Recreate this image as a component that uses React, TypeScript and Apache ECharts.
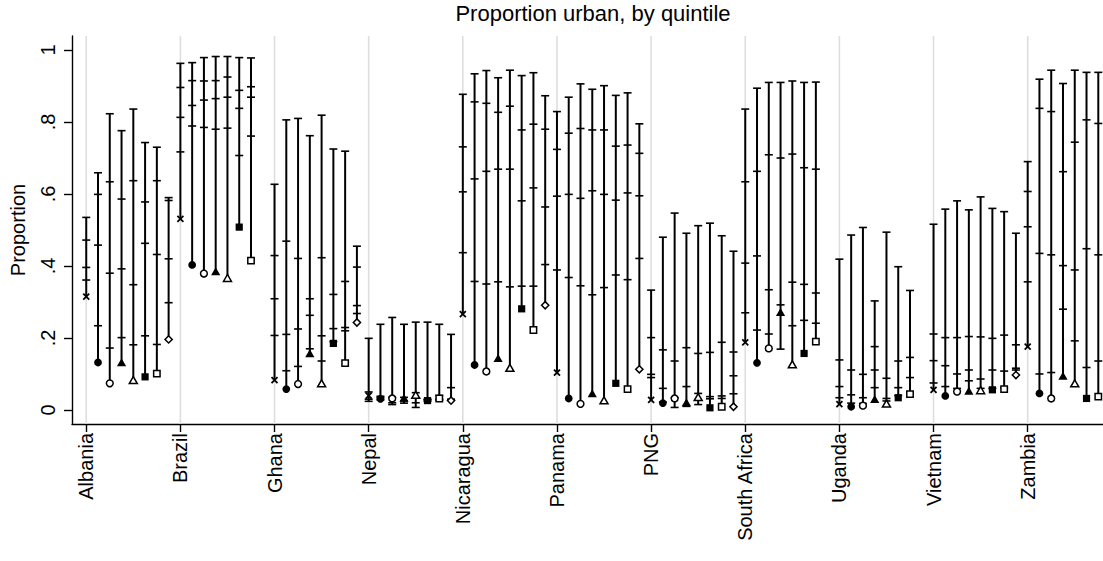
import { useEffect, useRef } from "react";
import * as echarts from "echarts";

const countries = [
  "Albania", "Brazil", "Ghana", "Nepal", "Nicaragua", "Panama",
  "PNG", "South Africa", "Uganda", "Vietnam", "Zambia",
];
const yTicks = [0, 0.2, 0.4, 0.6, 0.8, 1];

// per country: [marker value, then the four tick values]; null = no bar
type Bar = number[] | null;
const crossBars: Bar[] = [
  [0.315, 0.535, 0.472, 0.396, 0.361],
  [0.531, 0.963, 0.896, 0.813, 0.717],
  [0.083, 0.627, 0.429, 0.309, 0.207],
  [0.04, 0.199, 0.05, 0.03, 0.024],
  [0.266, 0.877, 0.731, 0.606, 0.437],
  [0.104, 0.829, 0.724, 0.594, 0.389],
  [0.028, 0.333, 0.201, 0.099, 0.09],
  [0.188, 0.836, 0.634, 0.408, 0.27],
  [0.016, 0.419, 0.139, 0.065, 0.034],
  [0.056, 0.516, 0.211, 0.137, 0.075],
  [0.176, 0.69, 0.607, 0.509, 0.356],
];
const dotBars: Bar[] = [
  [0.132, 0.659, 0.599, 0.458, 0.234],
  [0.403, 0.965, 0.915, 0.846, 0.789],
  [0.058, 0.806, 0.469, 0.21, 0.109],
  [0.031, 0.238, 0.038, 0.034, 0.028],
  [0.125, 0.934, 0.856, 0.642, 0.357],
  [0.032, 0.869, 0.769, 0.599, 0.368],
  [0.019, 0.48, 0.167, 0.06, 0.022],
  [0.131, 0.894, 0.663, 0.428, 0.222],
  [0.009, 0.486, 0.111, 0.042, 0.019],
  [0.039, 0.558, 0.201, 0.123, 0.065],
  [0.046, 0.919, 0.838, 0.435, 0.1],
];
const circleBars: Bar[] = [
  [0.074, 0.823, 0.634, 0.38, 0.172],
  [0.379, 0.979, 0.914, 0.861, 0.785],
  [0.072, 0.81, 0.421, 0.225, 0.121],
  [0.032, 0.257, 0.035, 0.02, 0.015],
  [0.107, 0.943, 0.852, 0.663, 0.35],
  [0.017, 0.906, 0.782, 0.588, 0.345],
  [0.032, 0.547, 0.136, 0.034, 0.007],
  [0.171, 0.91, 0.709, 0.334, 0.211],
  [0.012, 0.507, 0.099, 0.034, 0.018],
  [0.051, 0.581, 0.201, 0.1, 0.06],
  [0.032, 0.944, 0.829, 0.431, 0.104],
];
const triFillBars: Bar[] = [
  [0.13, 0.776, 0.586, 0.392, 0.201],
  [0.383, 0.982, 0.915, 0.865, 0.78],
  [0.155, 0.762, 0.309, 0.263, 0.17],
  [0.032, 0.238, 0.035, 0.025, 0.019],
  [0.142, 0.923, 0.827, 0.669, 0.356],
  [0.044, 0.891, 0.778, 0.609, 0.32],
  [0.019, 0.491, 0.173, 0.065, 0.01],
  [0.27, 0.91, 0.7, 0.292, 0.169],
  [0.028, 0.303, 0.176, 0.111, 0.062],
  [0.051, 0.556, 0.204, 0.111, 0.081],
  [0.093, 0.907, 0.662, 0.401, 0.28],
];
const triBars: Bar[] = [
  [0.081, 0.836, 0.637, 0.348, 0.181],
  [0.365, 0.982, 0.925, 0.869, 0.783],
  [0.072, 0.819, 0.423, 0.206, 0.136],
  [0.04, 0.244, 0.048, 0.02, 0.007],
  [0.115, 0.944, 0.844, 0.669, 0.342],
  [0.025, 0.901, 0.778, 0.599, 0.34],
  [0.034, 0.512, 0.157, 0.046, 0.015],
  [0.125, 0.914, 0.711, 0.355, 0.234],
  [0.016, 0.494, 0.088, 0.032, 0.025],
  [0.053, 0.592, 0.203, 0.086, 0.06],
  [0.072, 0.944, 0.744, 0.389, 0.192],
];
const sqFillBars: Bar[] = [
  [0.092, 0.743, 0.578, 0.463, 0.206],
  [0.508, 0.979, 0.888, 0.838, 0.707],
  [0.185, 0.725, 0.321, 0.226, 0.19],
  [0.026, 0.244, 0.03, 0.028, 0.024],
  [0.281, 0.929, 0.778, 0.581, 0.344],
  [0.074, 0.874, 0.733, 0.583, 0.375],
  [0.006, 0.519, 0.16, 0.037, 0.031],
  [0.157, 0.91, 0.673, 0.349, 0.249],
  [0.034, 0.398, 0.136, 0.062, 0.04],
  [0.056, 0.56, 0.199, 0.111, 0.06],
  [0.032, 0.938, 0.806, 0.448, 0.118],
];
const sqBars: Bar[] = [
  [0.101, 0.73, 0.637, 0.432, 0.182],
  [0.415, 0.978, 0.898, 0.869, 0.761],
  [0.13, 0.719, 0.357, 0.229, 0.22],
  [0.032, 0.238, 0.04, 0.03, 0.027],
  [0.222, 0.937, 0.794, 0.617, 0.344],
  [0.058, 0.881, 0.736, 0.603, 0.362],
  [0.009, 0.484, 0.188, 0.039, 0.032],
  [0.19, 0.911, 0.669, 0.325, 0.241],
  [0.044, 0.332, 0.146, 0.09, 0.05],
  [0.058, 0.551, 0.208, 0.108, 0.062],
  [0.037, 0.938, 0.796, 0.431, 0.136],
];
const diamondBars: Bar[] = [
  [0.196, 0.59, 0.582, 0.42, 0.298],
  null,
  [0.243, 0.455, 0.397, 0.29, 0.268],
  [0.026, 0.21, 0.062, 0.03, 0.028],
  [0.291, 0.873, 0.78, 0.564, 0.404],
  [0.113, 0.795, 0.713, 0.595, 0.421],
  [0.009, 0.441, 0.161, 0.095, 0.045],
  null,
  null,
  [0.097, 0.491, 0.181, 0.116, 0.111],
  null,
];

const groups = [
  { kind: "cross", bars: crossBars },
  { kind: "dot", bars: dotBars },
  { kind: "circle", bars: circleBars },
  { kind: "triFill", bars: triFillBars },
  { kind: "tri", bars: triBars },
  { kind: "sqFill", bars: sqFillBars },
  { kind: "sq", bars: sqBars },
  { kind: "diamond", bars: diamondBars },
];

const SLOTS = 8;
const FONT = "'Liberation Sans', Arial, Helvetica, sans-serif";

function marker(kind: string, cx: number, cy: number) {
  const ink = "#000";
  const hollow = { fill: "#fff", stroke: ink, lineWidth: 1.5 };
  switch (kind) {
    case "cross":
      return {
        type: "group",
        children: [
          { type: "line", shape: { x1: cx - 3, y1: cy - 3, x2: cx + 3, y2: cy + 3 }, style: { stroke: ink, lineWidth: 1.8 } },
          { type: "line", shape: { x1: cx - 3, y1: cy + 3, x2: cx + 3, y2: cy - 3 }, style: { stroke: ink, lineWidth: 1.8 } },
        ],
      };
    case "dot":
      return { type: "circle", shape: { cx, cy, r: 3.9 }, style: { fill: ink } };
    case "circle":
      return { type: "circle", shape: { cx, cy, r: 3.4 }, style: hollow };
    case "triFill":
      return { type: "polygon", shape: { points: [[cx, cy - 4.8], [cx + 4.6, cy + 3.2], [cx - 4.6, cy + 3.2]] }, style: { fill: ink } };
    case "tri":
      return { type: "polygon", shape: { points: [[cx, cy - 4.2], [cx + 4, cy + 2.8], [cx - 4, cy + 2.8]] }, style: hollow };
    case "sqFill":
      return { type: "rect", shape: { x: cx - 3.6, y: cy - 3.6, width: 7.2, height: 7.2 }, style: { fill: ink } };
    case "sq":
      return { type: "rect", shape: { x: cx - 3.2, y: cy - 3.2, width: 6.4, height: 6.4 }, style: hollow };
    default:
      return { type: "polygon", shape: { points: [[cx, cy - 3.6], [cx + 3.6, cy], [cx, cy + 3.6], [cx - 3.6, cy]] }, style: hollow };
  }
}

export default function App() {
  const ref = useRef<HTMLDivElement>(null);

  useEffect(() => {
    const el = ref.current;
    if (!el) return;
    const chart = echarts.init(el, undefined, { renderer: "svg" });

    const gridSeries = {
      type: "custom",
      silent: true,
      z: 1,
      data: countries.map((_, i) => [i * SLOTS, 0]),
      encode: { x: 0, y: 1 },
      renderItem: (params: any, api: any) => {
        const p = api.coord([api.value(0), 0]);
        const cs = params.coordSys;
        return {
          type: "line",
          shape: { x1: p[0], y1: cs.y, x2: p[0], y2: cs.y + cs.height },
          style: { stroke: "#dedede", lineWidth: 1.6 },
        };
      },
    };

    const barSeries = groups.map((g, si) => ({
      type: "custom",
      name: g.kind,
      z: 3,
      data: g.bars
        .map((b, ci) => (b ? [ci * SLOTS + si, ...b] : null))
        .filter((d) => d !== null),
      encode: { x: 0, y: [1, 2, 3, 4, 5] },
      renderItem: (_params: any, api: any) => {
        const x = api.value(0);
        const m = api.value(1);
        const ticks = [api.value(2), api.value(3), api.value(4), api.value(5)];
        const all = [m, ...ticks];
        const lo = api.coord([x, Math.min(...all)]);
        const hi = api.coord([x, Math.max(...all)]);
        const children: any[] = [
          { type: "line", shape: { x1: lo[0], y1: lo[1], x2: hi[0], y2: hi[1] }, style: { stroke: "#000", lineWidth: 2 } },
        ];
        ticks.forEach((t) => {
          const p = api.coord([x, t]);
          children.push({
            type: "line",
            shape: { x1: p[0] - 4, y1: p[1], x2: p[0] + 4, y2: p[1] },
            style: { stroke: "#000", lineWidth: 1.6 },
          });
        });
        const mp = api.coord([x, m]);
        children.push(marker(g.kind, mp[0], mp[1]));
        return { type: "group", children };
      },
    }));

    chart.setOption({
      animation: false,
      backgroundColor: "#fff",
      textStyle: { fontFamily: FONT },
      title: {
        text: "Proportion urban, by quintile",
        left: 588,
        top: -3,
        textAlign: "center",
        textStyle: { fontFamily: FONT, fontSize: 22, fontWeight: "normal", color: "#000" },
      },
      grid: { left: 71, right: 0, top: 36, bottom: 137, containLabel: false },
      xAxis: {
        type: "value",
        min: -1.21,
        max: 86.4,
        axisLine: { onZero: false, lineStyle: { color: "#000", width: 1.4 } },
        axisTick: { show: true, length: 8, lineStyle: { color: "#000", width: 1.4 }, customValues: countries.map((_, i) => i * SLOTS) },
        axisLabel: {
          customValues: countries.map((_, i) => i * SLOTS),
          rotate: 90,
          margin: 9,
          fontSize: 20,
          fontFamily: FONT,
          color: "#000",
          formatter: (v: number) => countries[Math.round(v / SLOTS)] ?? "",
        },
        splitLine: { show: false },
      },
      yAxis: {
        type: "value",
        min: -0.039,
        max: 1.039,
        name: "Proportion",
        nameLocation: "middle",
        nameGap: 44,
        nameRotate: 90,
        nameTextStyle: { fontFamily: FONT, fontSize: 20, color: "#000" },
        axisLine: { show: true, onZero: false, lineStyle: { color: "#000", width: 1.4 } },
        axisTick: { show: true, length: 8, lineStyle: { color: "#000", width: 1.4 }, customValues: yTicks },
        axisLabel: {
          customValues: yTicks,
          rotate: 90,
          margin: 14,
          fontSize: 20,
          fontFamily: FONT,
          color: "#000",
          formatter: (v: number) => (v === 0 ? "0" : v === 1 ? "1" : String(v).replace(/^0\./, ".")),
        },
        splitLine: { show: false },
      },
      series: [gridSeries, ...barSeries],
    });

    return () => {
      chart.dispose();
    };
  }, []);

  return (
    <div
      ref={ref}
      style={{ position: "fixed", left: 0, top: 0, width: 1103, height: 561, background: "#fff" }}
    />
  );
}
